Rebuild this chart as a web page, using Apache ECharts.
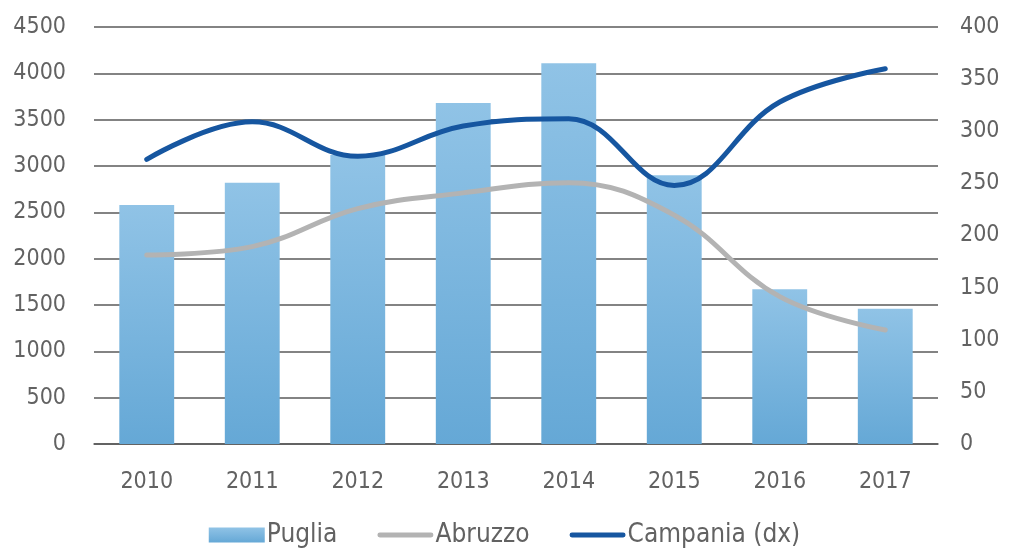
<!DOCTYPE html>
<html><head><meta charset="utf-8">
<script src="https://cdn.jsdelivr.net/npm/echarts@6/dist/echarts.min.js"></script>
<style>html,body{margin:0;padding:0;background:#fff}#c{width:1009px;height:549px}</style>
</head><body><div id="c"></div>
<script>
const years = ['2010','2011','2012','2013','2014','2015','2016','2017'];
const puglia = [2580, 2820, 3120, 3680, 4110, 2900, 1670, 1460];
const abruzzo = [2040, 2130, 2540, 2710, 2820, 2470, 1590, 1230];
const campania = [273, 309, 276, 305, 312, 248, 328, 360];
const leftTicks = {min: 0, max: 4500, interval: 500};
const rightTicks = {min: 0, max: 400, interval: 50};

const FONT = '"DejaVu Sans Condensed", "DejaVu Sans", sans-serif';
const LINE_ICON = 'path://M2.5,0 L55.5,0 A2.5,2.5 0 0 1 55.5,5 L2.5,5 A2.5,2.5 0 0 1 2.5,0 Z';
const chart = echarts.init(document.getElementById('c'));
chart.setOption({
  animation: false,
  textStyle: {fontFamily: FONT},
  grid: {left: 94, right: 71, top: 27, bottom: 105, containLabel: false},
  legend: {
    top: 517, left: 'center',
    itemWidth: 56, itemHeight: 15, itemGap: 40,
    textStyle: {fontSize: 26, color: '#626262', fontFamily: FONT, padding: [0,0,0,-3]},
    data: [
      {name: 'Puglia', icon: 'rect'},
      {name: 'Abruzzo', icon: LINE_ICON},
      {name: 'Campania (dx)', icon: LINE_ICON}
    ]
  },
  xAxis: {
    type: 'category', data: years,
    axisLine: {show: true, lineStyle: {color: '#595959', width: 1.5}},
    axisTick: {show: false},
    axisLabel: {fontSize: 23, color: '#626262', margin: 27, fontFamily: FONT}
  },
  yAxis: [
    {type: 'value', min: leftTicks.min, max: leftTicks.max, interval: leftTicks.interval,
     axisLine: {show: false}, axisTick: {show: false},
     splitLine: {lineStyle: {color: '#5a5a5a', width: 1.5}},
     axisLabel: {fontSize: 23, color: '#626262', margin: 28, fontFamily: FONT, formatter: v => String(v)}},
    {type: 'value', min: rightTicks.min, max: rightTicks.max, interval: rightTicks.interval,
     axisLine: {show: false}, axisTick: {show: false}, splitLine: {show: false},
     axisLabel: {fontSize: 23, color: '#626262', margin: 22, fontFamily: FONT, formatter: v => String(v)}}
  ],
  series: [
    {name: 'Puglia', type: 'bar', data: puglia, barWidth: '52%',
     itemStyle: {color: new echarts.graphic.LinearGradient(0,0,0,1,[{offset:0,color:'#90C3E6'},{offset:1,color:'#65A8D6'}])}},
    {name: 'Abruzzo', type: 'line', data: abruzzo, smooth: 0.4, symbol: 'none', showSymbol: false,
     lineStyle: {color: '#B3B3B3', width: 5, cap: 'round'}, itemStyle: {color: '#B3B3B3'}},
    {name: 'Campania (dx)', type: 'line', yAxisIndex: 1, data: campania, smooth: 0.4, symbol: 'none', showSymbol: false,
     lineStyle: {color: '#1656A0', width: 5, cap: 'round'}, itemStyle: {color: '#1656A0'}}
  ]
});
</script></body></html>
